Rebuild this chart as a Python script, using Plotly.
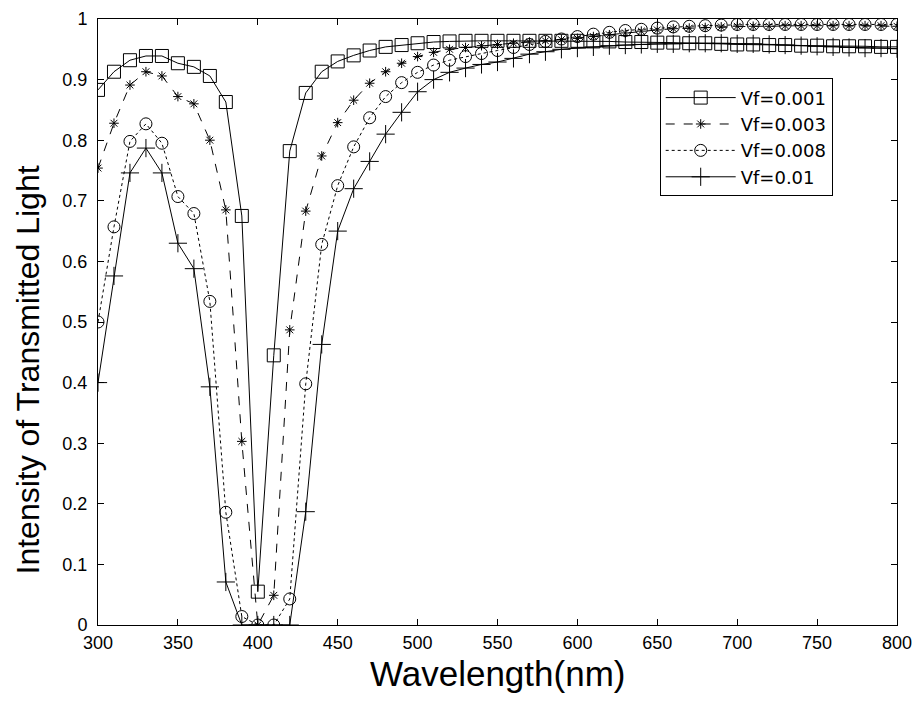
import plotly.graph_objects as go

wavelength = list(range(300, 801, 10))

vf_001 = [0.883, 0.913, 0.932, 0.939, 0.939, 0.927, 0.921, 0.906, 0.863, 0.675,
          0.055, 0.445, 0.782, 0.878, 0.913, 0.930, 0.940, 0.948, 0.954, 0.957,
          0.960, 0.962, 0.963, 0.964, 0.964, 0.964, 0.964, 0.964, 0.964, 0.964,
          0.964, 0.963, 0.963, 0.962, 0.962, 0.961, 0.961, 0.960, 0.960, 0.959,
          0.958, 0.958, 0.957, 0.957, 0.956, 0.956, 0.955, 0.955, 0.955, 0.954,
          0.954]
vf_003 = [0.754, 0.828, 0.891, 0.913, 0.906, 0.872, 0.860, 0.800, 0.685, 0.303,
          0.000, 0.049, 0.487, 0.683, 0.774, 0.829, 0.866, 0.894, 0.913, 0.927,
          0.938, 0.945, 0.950, 0.953, 0.956, 0.958, 0.960, 0.962, 0.964, 0.966,
          0.968, 0.971, 0.974, 0.977, 0.980, 0.982, 0.984, 0.985, 0.986, 0.987,
          0.988, 0.988, 0.988, 0.989, 0.989, 0.989, 0.989, 0.989, 0.989, 0.989,
          0.988]
vf_008 = [0.500, 0.657, 0.798, 0.827, 0.795, 0.707, 0.679, 0.534, 0.186, 0.014,
          0.000, 0.000, 0.043, 0.398, 0.628, 0.725, 0.789, 0.837, 0.872, 0.895,
          0.912, 0.924, 0.932, 0.938, 0.943, 0.948, 0.953, 0.958, 0.963, 0.967,
          0.971, 0.975, 0.978, 0.981, 0.983, 0.985, 0.987, 0.988, 0.989, 0.990,
          0.991, 0.991, 0.991, 0.991, 0.991, 0.991, 0.991, 0.991, 0.991, 0.991,
          0.991]
vf_01 = [0.400, 0.576, 0.746, 0.787, 0.746, 0.630, 0.588, 0.393, 0.071, 0.000,
         0.000, 0.000, 0.000, 0.187, 0.463, 0.650, 0.720, 0.765, 0.810, 0.846,
         0.880, 0.900, 0.912, 0.919, 0.925, 0.929, 0.935, 0.942, 0.946, 0.950,
         0.952, 0.954, 0.956, 0.957, 0.958, 0.959, 0.959, 0.960, 0.960, 0.960,
         0.959, 0.959, 0.958, 0.957, 0.956, 0.955, 0.954, 0.953, 0.952, 0.952,
         0.951]

series_names = ["Vf=0.001", "Vf=0.003", "Vf=0.008", "Vf=0.01"]
series_values = [vf_001, vf_003, vf_008, vf_01]
dashes = ["solid", "dash", "dot", "solid"]
symbols = ["square-open", "asterisk-open", "circle-open", "cross-thin-open"]
sizes = [13, 8, 12, 13]

x_ticks = list(range(300, 801, 50))
y_ticks = [0, 0.1, 0.2, 0.3, 0.4, 0.5, 0.6, 0.7, 0.8, 0.9, 1]
y_tick_text = ["0", "0.1", "0.2", "0.3", "0.4", "0.5", "0.6", "0.7", "0.8", "0.9", "1"]

FONT = "Liberation Sans, Arial, sans-serif"
LEGEND_FONT = "DejaVu Sans, sans-serif"

fig = go.Figure()
for name, vals, dash, sym, sz in zip(series_names, series_values, dashes, symbols, sizes):
    fig.add_trace(go.Scatter(
        x=wavelength, y=vals, name=name, mode="lines+markers",
        line=dict(color="black", width=1, dash=dash),
        marker=dict(symbol=sym, size=sz, color="black",
                    line=dict(color="black", width=1)),
    ))

axis_common = dict(
    showline=True, linecolor="black", linewidth=1, mirror="ticks",
    ticks="inside", ticklen=6, tickcolor="black", tickwidth=1,
    showgrid=False, zeroline=False, automargin=False,
    tickfont=dict(family=FONT, size=18, color="black"),
)

fig.update_layout(
    width=912, height=701,
    margin=dict(l=98, r=15, t=19, b=76, autoexpand=False),
    paper_bgcolor="white", plot_bgcolor="white",
    font=dict(family=FONT, color="black"),
    xaxis=dict(range=[300, 800], tickvals=x_ticks, ticklabeloverflow="allow",
               ticklabelstandoff=1, **axis_common),
    yaxis=dict(range=[0, 1], tickvals=y_ticks, ticktext=y_tick_text,
               ticklabelstandoff=6, **axis_common),
    legend=dict(
        x=0.703, y=0.902, xanchor="left", yanchor="top",
        bordercolor="black", borderwidth=1, bgcolor="white",
        font=dict(family=LEGEND_FONT, size=18, color="black"),
        itemwidth=70, tracegroupgap=0,
    ),
    showlegend=True,
    annotations=[
        dict(text="Wavelength(nm)", xref="paper", yref="paper",
             x=0.5, y=-0.08, xanchor="center", yanchor="middle",
             showarrow=False, font=dict(family=FONT, size=35, color="black")),
        dict(text="Intensity of Transmitted Light", xref="paper", yref="paper",
             x=-0.0876, y=0.42, xanchor="center", yanchor="middle", textangle=-90,
             showarrow=False, font=dict(family=FONT, size=32, color="black")),
    ],
)

fig.write_html("out.html")
